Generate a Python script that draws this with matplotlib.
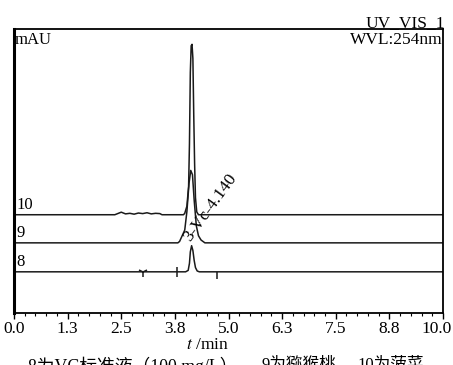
import matplotlib
matplotlib.use("Agg")
import matplotlib.pyplot as plt
from matplotlib.ticker import MultipleLocator, FixedLocator
import matplotlib.transforms as mtransforms
import numpy as np

plt.rcParams['font.family'] = ['Liberation Serif', 'Noto Sans CJK SC']
plt.rcParams['mathtext.fontset'] = 'stix'

# ---- data ----
trace_names = ["8", "9", "10"]
trace_offsets = [14.5, 24.7, 34.6]

t8 = [0.0, 4.00, 4.06, 4.09, 4.11, 4.14, 4.17, 4.20, 4.23, 4.27, 4.32, 10.0]
y8 = [0.0, 0.0, 0.5, 3.0, 7.0, 9.2, 7.5, 4.0, 1.5, 0.3, 0.0, 0.0]

t9 = [0.0, 3.82, 3.86, 3.92, 3.98, 4.03, 4.08, 4.12, 4.16, 4.20, 4.25, 4.30, 4.36, 4.45, 10.0]
y9 = [0.0, 0.0, 0.5, 2.5, 4.5, 11.0, 21.0, 25.5, 24.0, 15.0, 6.0, 2.5, 1.0, 0.0, 0.0]

t10 = [0.0, 2.35, 2.45, 2.50, 2.60, 2.70, 2.80, 2.90, 3.00, 3.10, 3.20, 3.30, 3.40, 3.45,
       3.95, 3.98, 4.03, 4.07, 4.09, 4.11, 4.13, 4.15, 4.17, 4.19, 4.21, 4.23, 4.26, 4.30, 10.0]
y10 = [0.0, 0.0, 0.6, 0.9, 0.3, 0.5, 0.2, 0.6, 0.4, 0.7, 0.3, 0.5, 0.4, 0.0,
       0.0, 0.5, 3.0, 10.0, 25.0, 50.0, 59.5, 60.0, 55.0, 35.0, 18.0, 6.0, 1.0, 0.0, 0.0]

traces_t = [t8, t9, t10]
traces_y = [y8, y9, y10]

# integration event marks on trace 8
event_times = [3.00, 3.79, 4.74]
event_markers = ['1', '|', 3]

peak_label = "3-Vc-4.140"
peak_label_pos = (4.03, 26.0)

xtick_vals = [0.0, 1.25, 2.5, 3.75, 5.0, 6.25, 7.5, 8.75, 10.0]
xtick_labels = ["0.0", "1.3", "2.5", "3.8", "5.0", "6.3", "7.5", "8.8", "10.0"]

caption_parts = ["8为VC标准液（100 mg/L）", "9为猕猴桃", "10为菠菜"]

# ---- figure ----
fig = plt.figure(figsize=(4.53, 3.65), dpi=100)
ax = fig.add_axes([14/453, 1-313/365, (443-14)/453, (313-29)/365])

for tt, yy, off, name in zip(traces_t, traces_y, trace_offsets, trace_names):
    ax.plot(tt, np.array(yy) + off, color='#1a1a1a', lw=1.1, solid_joinstyle='round')
    ax.text(0.05, off + 0.7, name, fontsize=12, ha='left', va='bottom')

for et, mk in zip(event_times, event_markers):
    ax.plot([et], [trace_offsets[0]], marker=mk, color='#1a1a1a',
            markersize=7 if mk != 3 else 5, mew=1.1, linestyle='none')

ax.text(peak_label_pos[0], peak_label_pos[1], peak_label, rotation=54,
        rotation_mode='anchor', ha='left', va='center', fontsize=12.5)

ax.set_xlim(0, 10)
ax.set_ylim(0, 100)
ax.set_yticks([])
ax.xaxis.set_major_locator(FixedLocator(xtick_vals))
ax.set_xticklabels(xtick_labels, fontsize=12.5)
ax.xaxis.set_minor_locator(MultipleLocator(0.25))
ax.tick_params(axis='x', which='major', direction='out', length=4, width=1, pad=2)
ax.tick_params(axis='x', which='minor', direction='out', length=2.5, width=0.8)
# keep the last label inside the picture
last = ax.get_xticklabels()[-1]
last.set_transform(last.get_transform() + mtransforms.ScaledTranslation(-6/100, 0, fig.dpi_scale_trans))

for s in ['top', 'right', 'bottom']:
    ax.spines[s].set_linewidth(1.3)
ax.spines['left'].set_linewidth(2.2)

ax.text(0.002, 0.988, "mAU", transform=ax.transAxes, ha='left', va='top', fontsize=12)
ax.text(0.998, 0.988, "WVL:254nm", transform=ax.transAxes, ha='right', va='top', fontsize=12.5)
fig.text(445/453, 1-27/365, "UV_VIS_1", ha='right', va='baseline', fontsize=12.5)

ax.set_xlabel("$t$ /min", fontsize=12.5, labelpad=1)
ax.xaxis.set_label_coords((207-14)/429, -(337-313)/284, transform=ax.transAxes)
ax.xaxis.label.set_va('top')

caption_x = [28/453, 261/453, 357/453]
caption_sizes = [12.8, 12, 12]
for cx, part, fs in zip(caption_x, caption_parts, caption_sizes):
    fig.text(cx, 1-357/365, part, ha='left', va='top', fontsize=fs)

fig.savefig("out.png", dpi=100)
